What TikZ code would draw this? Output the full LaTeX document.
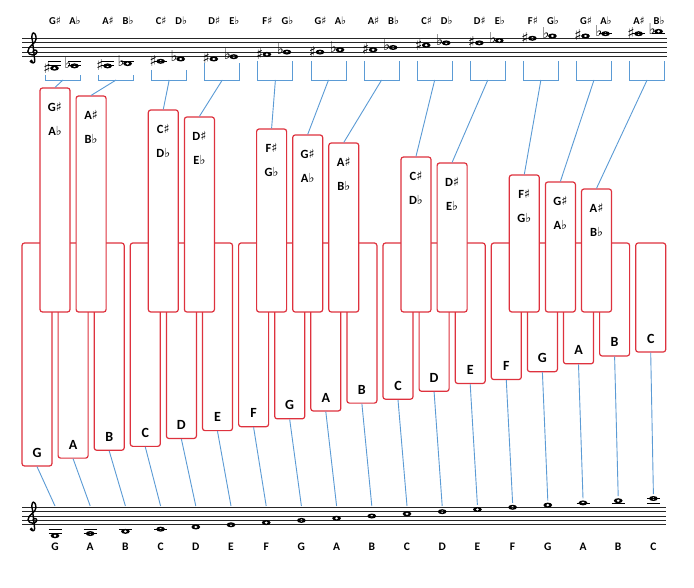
\documentclass[tikz,border=0pt]{standalone}
\usepackage{fontspec}
\setmainfont{Carlito}
\newfontfamily\symf{DejaVu Sans}
\definecolor{keyred}{RGB}{222,50,62}
\definecolor{linkblue}{RGB}{91,155,213}
\newcommand\msharp{{\symf\mdseries\char"266F}}
\newcommand\mflat{{\symf\mdseries\char"266D}}
\newcommand\wnote[4]{%
  \pgfmathsetmacro\ny{#3-(#2-2)*#4}%
  \fill[even odd rule] (#1,\ny) ellipse (4.4pt and 2.5pt) (#1,\ny) ellipse (1.8pt and 1.4pt);%
  \ifnum#2<1 \draw[ledger] (#1-6.5,#3+2*#4) -- (#1+6.5,#3+2*#4);\fi
  \ifnum#2<-1 \draw[ledger] (#1-6.5,#3+4*#4) -- (#1+6.5,#3+4*#4);\fi
  \ifnum#2>11 \draw[ledger] (#1-6.5,#3-10*#4) -- (#1+6.5,#3-10*#4);\fi
  \ifnum#2>13 \draw[ledger] (#1-6.5,#3-12*#4) -- (#1+6.5,#3-12*#4);\fi
}
\newcommand\gclef[3]{%
  \begin{scope}[shift={(#1pt,-#2pt)}, x=#3pt, y=#3pt]
    \draw[line width=1.4pt, line cap=round, line join=round]
      (0.2,1.0) .. controls (0.2,1.6) and (1.1,1.6) .. (1.1,1.0)
      .. controls (1.1,0.2) and (-0.9,0.1) .. (-0.9,1.2)
      .. controls (-0.9,2.3) and (0.9,2.8) .. (0.9,3.9)
      .. controls (0.9,4.8) and (0.5,5.3) .. (0.3,5.2)
      .. controls (-0.1,5.0) and (-0.1,4.0) .. (0.1,3.5)
      -- (0.6,-0.8)
      .. controls (0.7,-1.4) and (0.0,-1.6) .. (-0.2,-1.0);
    \fill (-0.15,-1.0) circle (0.4);
  \end{scope}%
}
\begin{document}
\begin{tikzpicture}[x=1pt,y=-1pt,
  wkey/.style={draw=keyred, fill=white, line width=1.2pt, rounded corners=2.5pt, minimum width=30pt, inner sep=0pt},
  bkey/.style={draw=keyred, fill=white, line width=1.2pt, rounded corners=2.5pt, minimum width=30pt, inner sep=0pt},
  conn/.style={draw=linkblue, line width=0.9pt},
  staffline/.style={line width=0.9pt, black!85},
  ledger/.style={line width=0.8pt, black},
  wlabel/.style={font=\bfseries\fontsize{14}{14}\selectfont, inner sep=0pt},
  blabel/.style={font=\bfseries\fontsize{12.5}{12.5}\selectfont, inner sep=0pt},
  tlabel/.style={font=\bfseries\fontsize{10.5}{10.5}\selectfont, inner sep=0pt},
  nlabel/.style={font=\bfseries\fontsize{11.5}{11.5}\selectfont, inner sep=0pt},
  acc/.style={font=\symf\fontsize{15}{15}\selectfont, inner sep=0pt}]
\useasboundingbox[fill=white] (0,0) rectangle (694,588);

% ---------- white keys ----------
\foreach \i/\s/\l in {0/0/G,1/2/A,2/4/B,3/5/C,4/7/D,5/9/E,6/10/F,7/12/G,8/14/A,9/16/B,10/17/C,11/19/D,12/21/E,13/22/F,14/24/G,15/26/A,16/28/B,17/29/C}{
  \pgfmathsetmacro\cx{37+36.1*\i}
  \pgfmathsetmacro\bt{466-3.93*\s}
  \pgfmathsetmacro\h{\bt-243}
  \pgfmathsetmacro\cy{(\bt+243)/2}
  \node[wkey, minimum height=\h pt] (wk\i) at (\cx,\cy) {};
  \node[wlabel] (wl\i) at (\cx,\bt-13.5) {\l};
}

% ---------- black keys ----------
\foreach \j/\t/\a/\b [count=\k] in {0/88/G/A,1/96/A/B,3/110/C/D,4/117/D/E,6/129/F/G,7/135/G/A,8/143/A/B,10/157/C/D,11/163/D/E,13/175/F/G,14/182/G/A,15/189/A/B}{
  \pgfmathsetmacro\cx{55+36.1*\j}
  \pgfmathsetmacro\h{312-\t}
  \pgfmathsetmacro\cy{(312+\t)/2}
  \node[bkey, minimum height=\h pt] (bk\k) at (\cx,\cy) {};
  \node[blabel] (bla\k) at (\cx,\t+19) {\a\msharp};
  \node[blabel] (blb\k) at (\cx,\t+43) {\b\mflat};
}

% ---------- top staff ----------
\foreach \m in {0,...,4}{
  \draw[staffline] (22,38.3+4.6*\m) -- (667,38.3+4.6*\m);
}
\gclef{32}{56.7}{4.6}
\foreach \ds/\df/\bt/\a/\b [count=\k] in {-3/-2/75/G/A,-2/-1/75/A/B,0/1/70/C/D,1/2/63/D/E,3/4/61/F/G,4/5/61/G/A,5/6/61/A/B,7/8/61/C/D,8/9/61/D/E,10/11/61/F/G,11/12/61/G/A,12/13/61/A/B}{
  \pgfmathsetmacro\xa{55+53.1*(\k-1)}
  \pgfmathsetmacro\ys{56.7-(\ds-2)*2.3}
  \pgfmathsetmacro\yf{56.7-(\df-2)*2.3}
  \node[tlabel] (ta\k) at (\xa,21) {\a\msharp};
  \node[tlabel] (tb\k) at (\xa+20,21) {\b\mflat};
  \wnote{\xa-0.5}{\ds}{56.7}{2.3}
  \wnote{\xa+19.5}{\df}{56.7}{2.3}
  \node[acc] (sa\k) at (\xa-8,\ys-0.5) {\char"266F};
  \node[acc] (fa\k) at (\xa+13,\yf-2.8) {\char"266D};
  \draw[conn] (\xa-9.5,\bt) -- (\xa-9.5,80) -- (\xa+25.5,80) -- (\xa+25.5,\bt);
  \coordinate (br\k) at (\xa+8,80);
  \draw[conn] (br\k) -- (bk\k.north);
}

% ---------- bottom staff ----------
\foreach \m in {0,...,4}{
  \draw[staffline] (22,507.3+4.38*\m) -- (666,507.3+4.38*\m);
}
\gclef{32}{524.8}{4.38}
\foreach \i/\l in {0/G,1/A,2/B,3/C,4/D,5/E,6/F,7/G,8/A,9/B,10/C,11/D,12/E,13/F,14/G,15/A,16/B,17/C}{
  \pgfmathsetmacro\xn{55+35.2*\i}
  \pgfmathtruncatemacro\dd{\i-3}
  \pgfmathsetmacro\yn{524.8-(\dd-2)*2.19}
  \pgfmathsetmacro\ye{min(506,\yn-4.5)}
  \wnote{\xn}{\dd}{524.8}{2.19}
  \node[nlabel] (nl\i) at (\xn,547) {\l};
  \coordinate (ne\i) at (\xn,\ye);
  \draw[conn] (wk\i.south) -- (ne\i);
}
\end{tikzpicture}
\end{document}
